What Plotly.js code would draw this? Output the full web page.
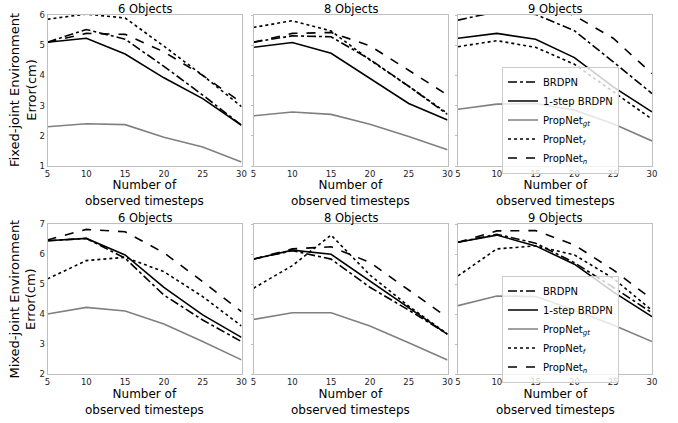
<!DOCTYPE html>
<html>
<head>
<meta charset="utf-8">
<script src="https://cdn.plot.ly/plotly-3.0.1.min.js"></script>
<style>html,body{margin:0;padding:0;background:#fff;}#chart{width:678px;height:423px;}</style>
</head>
<body>
<div id="chart"></div>
<script>
// ---- data ----
var timesteps = [5, 10, 15, 20, 25, 30];
var panelTitles = ["6 Objects", "8 Objects", "9 Objects"];
var seriesNames = ["BRDPN", "1-step BRDPN", "PropNet<sub><i>gt</i></sub>", "PropNet<sub><i>f</i></sub>", "PropNet<sub><i>n</i></sub>"];
var xTitle = "Number of<br>observed timesteps";
var yTitles = ["Fixed-joint Environment<br>Error(cm)", "Mixed-joint Environment<br>Error(cm)"];
var xTickVals = [5, 10, 15, 20, 25, 30];
var fixedTickVals = [1, 2, 3, 4, 5, 6];
var mixedTickVals = [2, 3, 4, 5, 6, 7];

// Fixed-joint environment
var brdpn_f6   = [5.10, 5.52, 5.20, 4.30, 3.35, 2.35];
var onestep_f6 = [5.10, 5.23, 4.71, 3.92, 3.23, 2.35];
var gt_f6      = [2.30, 2.40, 2.37, 1.95, 1.63, 1.13];
var pf_f6      = [5.86, 6.03, 5.90, 4.97, 4.00, 2.97];
var pn_f6      = [5.10, 5.39, 5.36, 4.78, 4.00, 3.10];

var brdpn_f8   = [5.10, 5.31, 5.28, 4.53, 3.64, 2.71];
var onestep_f8 = [4.93, 5.09, 4.73, 3.90, 3.07, 2.52];
var gt_f8      = [2.66, 2.79, 2.71, 2.38, 1.98, 1.54];
var pf_f8      = [5.59, 5.81, 5.47, 4.51, 3.64, 2.74];
var pn_f8      = [5.10, 5.39, 5.42, 4.98, 4.17, 3.35];

var brdpn_f9   = [5.83, 6.11, 6.02, 5.48, 4.45, 3.40];
var onestep_f9 = [5.23, 5.39, 5.20, 4.59, 3.62, 2.79];
var gt_f9      = [2.88, 3.05, 3.07, 2.85, 2.40, 1.83];
var pf_f9      = [4.95, 5.15, 4.93, 4.37, 3.46, 2.55];
var pn_f9      = [6.35, 6.55, 6.45, 5.98, 5.23, 4.06];

// Mixed-joint environment
var brdpn_m6   = [6.44, 6.52, 5.86, 4.63, 3.80, 3.08];
var onestep_m6 = [6.44, 6.52, 5.97, 4.89, 3.97, 3.22];
var gt_m6      = [4.00, 4.22, 4.10, 3.67, 3.08, 2.47];
var pf_m6      = [5.17, 5.78, 5.89, 5.41, 4.58, 3.60];
var pn_m6      = [6.47, 6.82, 6.74, 6.04, 5.08, 4.08];

var brdpn_m8   = [5.83, 6.11, 5.83, 4.89, 4.13, 3.33];
var onestep_m8 = [5.83, 6.13, 5.99, 5.10, 4.19, 3.32];
var gt_m8      = [3.82, 4.04, 4.04, 3.60, 3.04, 2.47];
var pf_m8      = [4.86, 5.61, 6.63, 5.30, 4.26, 3.33];
var pn_m8      = [5.83, 6.17, 6.24, 5.72, 4.80, 3.88];

var brdpn_m9   = [6.39, 6.66, 6.36, 5.71, 4.89, 4.04];
var onestep_m9 = [6.39, 6.63, 6.27, 5.66, 4.74, 3.91];
var gt_m9      = [4.28, 4.60, 4.58, 4.13, 3.63, 3.08];
var pf_m9      = [5.27, 6.17, 6.27, 5.97, 5.19, 4.12];
var pn_m9      = [6.39, 6.77, 6.78, 6.30, 5.47, 4.49];

// ---- styling ----
var FONT = "DejaVu Sans, Liberation Sans, sans-serif";
var lineStyles = [
  {color: "#000000", dash: "dashdot", width: 1.6},
  {color: "#000000", dash: "solid", width: 1.6},
  {color: "#808080", dash: "solid", width: 1.6},
  {color: "#000000", dash: "dot", width: 1.6},
  {color: "#000000", dash: "dash", width: 1.6}
];

var panels = [
  [brdpn_f6, onestep_f6, gt_f6, pf_f6, pn_f6],
  [brdpn_f8, onestep_f8, gt_f8, pf_f8, pn_f8],
  [brdpn_f9, onestep_f9, gt_f9, pf_f9, pn_f9],
  [brdpn_m6, onestep_m6, gt_m6, pf_m6, pn_m6],
  [brdpn_m8, onestep_m8, gt_m8, pf_m8, pn_m8],
  [brdpn_m9, onestep_m9, gt_m9, pf_m9, pn_m9]
];

var W = 678, H = 423;
var colPx = [[47.5, 241.5], [253.5, 447.5], [458, 652]];
var rowPx = [[15, 166], [224, 374]];
function xd(c) { return [colPx[c][0] / W, colPx[c][1] / W]; }
function yd(r) { return [1 - rowPx[r][1] / H, 1 - rowPx[r][0] / H]; }
function py(px) { return 1 - px / H; }
function pxx(px) { return px / W; }

var traces = [];
panels.forEach(function (series, p) {
  var r = Math.floor(p / 3), c = p % 3;
  var idx = p + 1;
  series.forEach(function (vals, s) {
    traces.push({
      type: "scatter", mode: "lines",
      x: timesteps, y: vals,
      name: seriesNames[s],
      xaxis: idx === 1 ? "x" : "x" + idx,
      yaxis: idx === 1 ? "y" : "y" + idx,
      line: lineStyles[s],
      showlegend: c === 2,
      legend: r === 0 ? "legend" : "legend2",
      hoverinfo: "x+y+name"
    });
  });
});

var legendBase = {
  xanchor: "left", yanchor: "middle",
  bgcolor: "rgba(255,255,255,0.8)", bordercolor: "#cccccc", borderwidth: 1,
  font: {family: FONT, size: 10, color: "#000"}, tracegroupgap: 0
};

var layout = {
  width: W, height: H,
  margin: {l: 0, r: 0, t: 0, b: 0},
  paper_bgcolor: "#ffffff",
  plot_bgcolor: "#ffffff",
  font: {family: FONT, color: "#000000", size: 10},
  annotations: [],
  legend: Object.assign({x: pxx(502), y: py(120)}, legendBase),
  legend2: Object.assign({x: pxx(502), y: py(329)}, legendBase)
};

function addText(text, xpx, ypx, size, angle) {
  layout.annotations.push({
    text: text, xref: "paper", yref: "paper",
    x: pxx(xpx), y: py(ypx), xanchor: "center", yanchor: "middle",
    showarrow: false, textangle: angle || 0, borderpad: 0, align: "center",
    font: {family: FONT, size: size, color: "#000"}
  });
}

for (var p = 0; p < 6; p++) {
  var r = Math.floor(p / 3), c = p % 3, idx = p + 1;
  var xk = idx === 1 ? "xaxis" : "xaxis" + idx;
  var yk = idx === 1 ? "yaxis" : "yaxis" + idx;
  layout[xk] = {
    domain: xd(c), anchor: idx === 1 ? "y" : "y" + idx,
    range: [5, 30], tickmode: "array", tickvals: xTickVals,
    showgrid: false, zeroline: false,
    showline: true, mirror: true, linecolor: "#bfbfbf", linewidth: 1,
    ticks: "",
    tickfont: {family: FONT, size: 8.5, color: "#222"}
  };
  layout[yk] = {
    domain: yd(r), anchor: idx === 1 ? "x" : "x" + idx,
    range: r === 0 ? [1, 6] : [2, 7], tickmode: "array",
    tickvals: r === 0 ? fixedTickVals : mixedTickVals,
    showticklabels: c === 0,
    showgrid: false, zeroline: false,
    showline: true, mirror: true, linecolor: "#bfbfbf", linewidth: 1,
    ticks: c === 0 ? "" : "outside", ticklen: 2, tickcolor: "#bfbfbf",
    tickfont: {family: FONT, size: 8.5, color: "#222"}
  };
  var cx = (colPx[c][0] + colPx[c][1]) / 2;
  // x-axis title
  addText(xTitle, cx, rowPx[r][1] + 27.5, 12);
  // panel title
  layout.annotations.push({
    text: panelTitles[c], xref: "paper", yref: "paper",
    x: pxx(cx), y: yd(r)[1],
    xanchor: "center", yanchor: "bottom", showarrow: false, borderpad: 0,
    font: {family: FONT, size: 11.5, color: "#000"}, yshift: -2
  });
  if (c === 0) {
    var cy = (rowPx[r][0] + rowPx[r][1]) / 2;
    addText(yTitles[r], 22.5, cy, 13, -90);
  }
}

Plotly.newPlot("chart", traces, layout, {displayModeBar: false});
</script>
</body>
</html>
